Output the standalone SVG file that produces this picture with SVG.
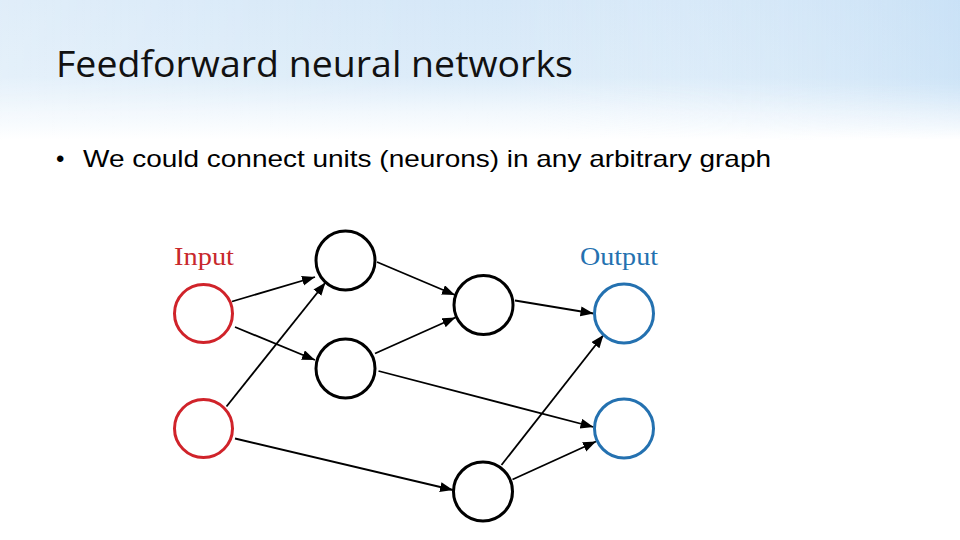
<svg xmlns="http://www.w3.org/2000/svg" width="960" height="540" viewBox="0 0 960 540">
<defs>
<linearGradient id="bgv" x1="0" y1="0" x2="0" y2="1">
<stop offset="0" stop-color="#d6e8f8"/>
<stop offset="0.55" stop-color="#dcecf9"/>
<stop offset="0.8" stop-color="#f2f8fd"/>
<stop offset="1" stop-color="#ffffff"/>
</linearGradient>
<linearGradient id="bgh" x1="0" y1="0" x2="1" y2="0">
<stop offset="0" stop-color="#ffffff" stop-opacity="0.25"/>
<stop offset="0.5" stop-color="#ffffff" stop-opacity="0"/>
<stop offset="1" stop-color="#b8d8f4" stop-opacity="0.4"/>
</linearGradient>
<linearGradient id="fade" x1="0" y1="0" x2="0" y2="1">
<stop offset="0" stop-color="#fff"/>
<stop offset="0.6" stop-color="#fff"/>
<stop offset="1" stop-color="#000"/>
</linearGradient>
<mask id="m" maskUnits="userSpaceOnUse" x="0" y="0" width="960" height="140">
<rect width="960" height="140" fill="url(#fade)"/>
</mask>
<marker id="arr" markerUnits="userSpaceOnUse" markerWidth="15" markerHeight="11" refX="13" refY="5" orient="auto">
<path d="M0,0 L13,5 L0,10 z" fill="#000"/>
</marker>
<style>
.edge{stroke:#000;stroke-width:1.8;fill:none;marker-end:url(#arr)}
.hid{fill:#fff;stroke:#000;stroke-width:3}
.inp{fill:#fff;stroke:#d0232a;stroke-width:3}
.out{fill:#fff;stroke:#2471b0;stroke-width:3}
.lbl{font-family:"Liberation Serif",serif;font-size:26px}
</style>
</defs>
<rect width="960" height="540" fill="#fff"/>
<rect width="960" height="140" fill="url(#bgv)"/>
<rect width="960" height="140" fill="url(#bgh)" mask="url(#m)"/>
<text x="56" y="77" font-family="'Open Sans','Noto Sans',sans-serif" font-size="37" fill="#111" textLength="517" lengthAdjust="spacingAndGlyphs">Feedforward neural networks</text>
<text x="56" y="167" font-family="'Liberation Sans',Arial,sans-serif" font-size="24" fill="#000">•</text>
<text x="83" y="167" font-family="'Liberation Sans',Arial,sans-serif" font-size="24" fill="#000" textLength="688" lengthAdjust="spacingAndGlyphs">We could connect units (neurons) in any arbitrary graph</text>
<g id="connectors">
<line class="edge" x1="232" y1="301.5" x2="315" y2="277"/>
<line class="edge" x1="235" y1="327" x2="315" y2="360"/>
<line class="edge" x1="226.5" y1="406.5" x2="325.5" y2="282.5"/>
<line class="edge" x1="235" y1="438.5" x2="453" y2="490"/>
<line class="edge" x1="377" y1="262" x2="455" y2="295"/>
<line class="edge" x1="375" y1="353.5" x2="455.5" y2="317.5"/>
<line class="edge" x1="378.5" y1="371" x2="593.5" y2="427"/>
<line class="edge" x1="515" y1="300.5" x2="593.5" y2="313.5"/>
<line class="edge" x1="501.5" y1="465" x2="603.5" y2="335"/>
<line class="edge" x1="512.5" y1="479.5" x2="596" y2="441.5"/>
</g>
<g id="input-label"><text class="lbl" x="174" y="265" fill="#c8282c" textLength="60" lengthAdjust="spacingAndGlyphs">Input</text></g>
<g id="output-label"><text class="lbl" x="580" y="265" fill="#2471b0" textLength="78" lengthAdjust="spacingAndGlyphs">Output</text></g>
<g id="in1"><circle class="inp" cx="203.5" cy="313.5" r="29"/></g>
<g id="in2"><circle class="inp" cx="203.5" cy="428.5" r="29"/></g>
<g id="h1"><circle class="hid" cx="345.5" cy="260.5" r="29.5"/></g>
<g id="h2"><circle class="hid" cx="345.5" cy="368.5" r="29.5"/></g>
<g id="h3"><circle class="hid" cx="483.5" cy="305" r="29.5"/></g>
<g id="h4"><circle class="hid" cx="483" cy="491.5" r="29.5"/></g>
<g id="out1"><circle class="out" cx="624" cy="313.5" r="29.5"/></g>
<g id="out2"><circle class="out" cx="624" cy="428.5" r="29.5"/></g>
</svg>
